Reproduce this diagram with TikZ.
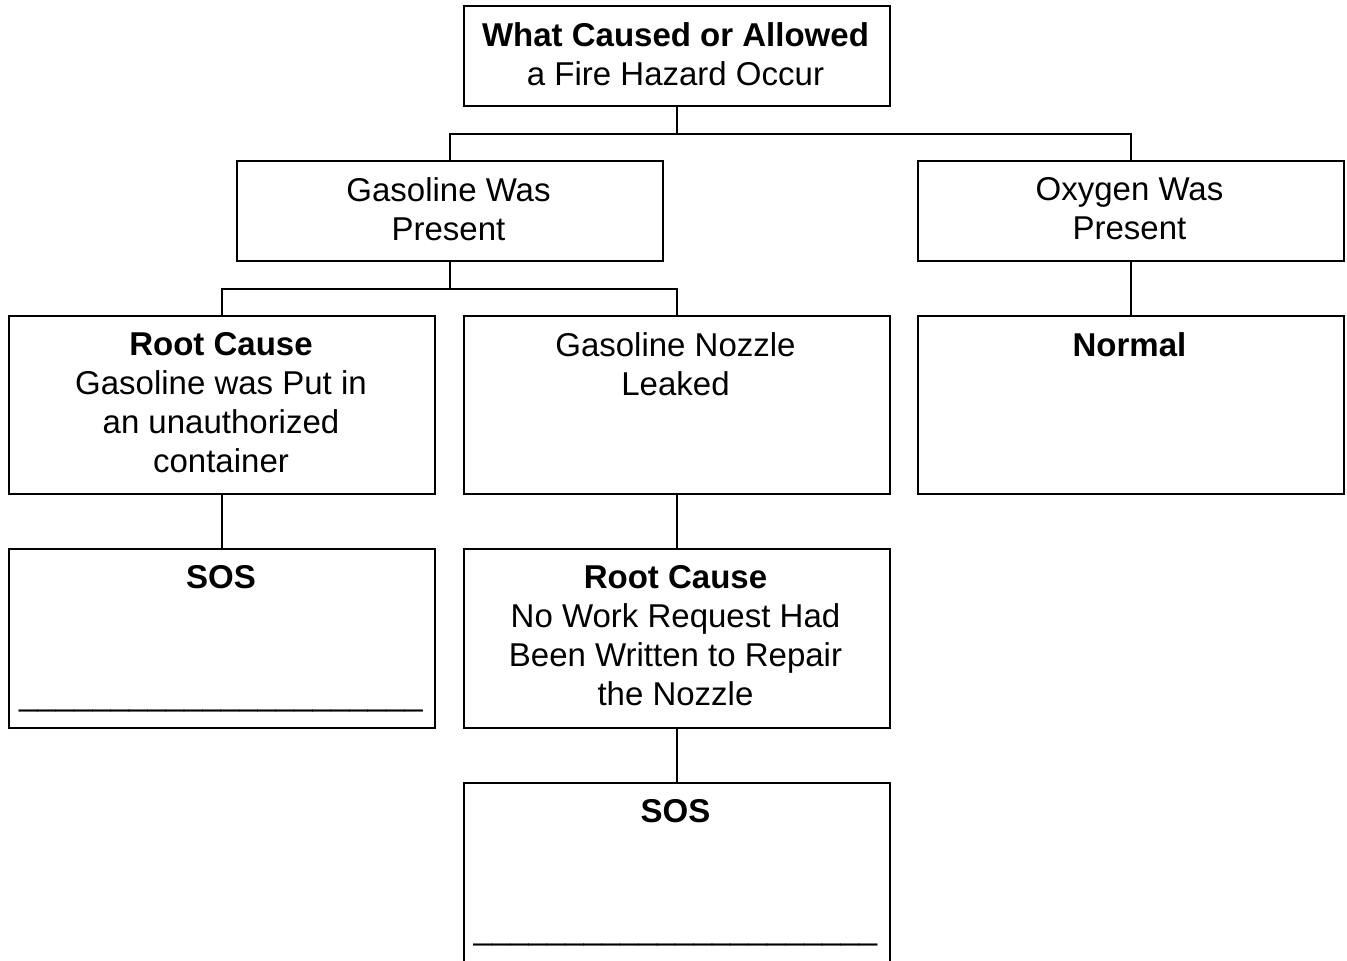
\documentclass[tikz,border=0pt]{standalone}
\usepackage{fontspec}
\setmainfont{Liberation Sans}
\begin{document}
\begin{tikzpicture}[x=1pt,y=-1pt,
  box/.style={draw,line width=2pt,minimum width=426pt,minimum height=#1,inner sep=0pt,anchor=north west},
  box/.default=100pt,
  txt/.style={anchor=north,inner sep=0pt,align=center,font=\fontsize{33}{39}\selectfont},
  uline/.style={anchor=base,inner sep=0pt,font=\fontsize{33}{39}\selectfont},
  conn/.style={line width=2pt}]
\useasboundingbox (0,0) rectangle (1347,961);
\clip (0,0) rectangle (1347,961);
% boxes
\node[box] (top) at (462.5,5) {};
\node[box] (gas) at (235.5,160) {};
\node[box] (oxy) at (916.5,160) {};
\node[box=178pt] (rc1) at (8,315) {};
\node[box=178pt] (noz) at (462.5,315) {};
\node[box=178pt] (nor) at (916.5,315) {};
\node[box=179pt] (sos1) at (8,548) {};
\node[box=179pt] (rc2) at (462.5,548) {};
\node[box=190pt] (sos2) at (462.5,782) {};
% texts
\node[txt] (ttop) at ([xshift=-1pt,yshift=-17pt]top.north) {\textbf{What Caused or Allowed}\\a Fire Hazard Occur};
\node[txt] (tgas) at ([xshift=-1pt,yshift=-17pt]gas.north) {Gasoline Was\\Present};
\node[txt] (toxy) at ([xshift=-1pt,yshift=-17pt]oxy.north) {Oxygen Was\\Present};
\node[txt] (trc1) at ([xshift=-1pt,yshift=-17pt]rc1.north) {\textbf{Root Cause}\\Gasoline was Put in\\an unauthorized\\container};
\node[txt] (tnoz) at ([xshift=-1pt,yshift=-17pt]noz.north) {Gasoline Nozzle\\Leaked};
\node[txt] (tnor) at ([xshift=-1pt,yshift=-17pt]nor.north) {\textbf{Normal}};
\node[txt] (tsos1) at ([xshift=-1pt,yshift=-17pt]sos1.north) {\textbf{SOS}};
\node[txt] (trc2) at ([xshift=-1pt,yshift=-17pt]rc2.north) {\textbf{Root Cause}\\No Work Request Had\\Been Written to Repair\\the Nozzle};
\node[txt] (tsos2) at ([xshift=-1pt,yshift=-17pt]sos2.north) {\textbf{SOS}};
\node[uline] (u1) at ([xshift=-1pt,yshift=-157pt]sos1.north) {\_\_\_\_\_\_\_\_\_\_\_\_\_\_\_\_\_\_\_\_\_\_};
\node[uline] (u2) at ([xshift=-1pt,yshift=-157pt]sos2.north) {\_\_\_\_\_\_\_\_\_\_\_\_\_\_\_\_\_\_\_\_\_\_};
% connectors
\draw[conn] (top.south) -- ++(0,27) -| (gas.north);
\draw[conn] (top.south) ++(0,27) -| (oxy.north);
\draw[conn] (gas.south) -- ++(0,27) -| (rc1.north);
\draw[conn] (gas.south) ++(0,27) -| (noz.north);
\draw[conn] (oxy.south) -- (nor.north);
\draw[conn] (rc1.south) -- (sos1.north);
\draw[conn] (noz.south) -- (rc2.north);
\draw[conn] (rc2.south) -- (sos2.north);
\end{tikzpicture}
\end{document}
